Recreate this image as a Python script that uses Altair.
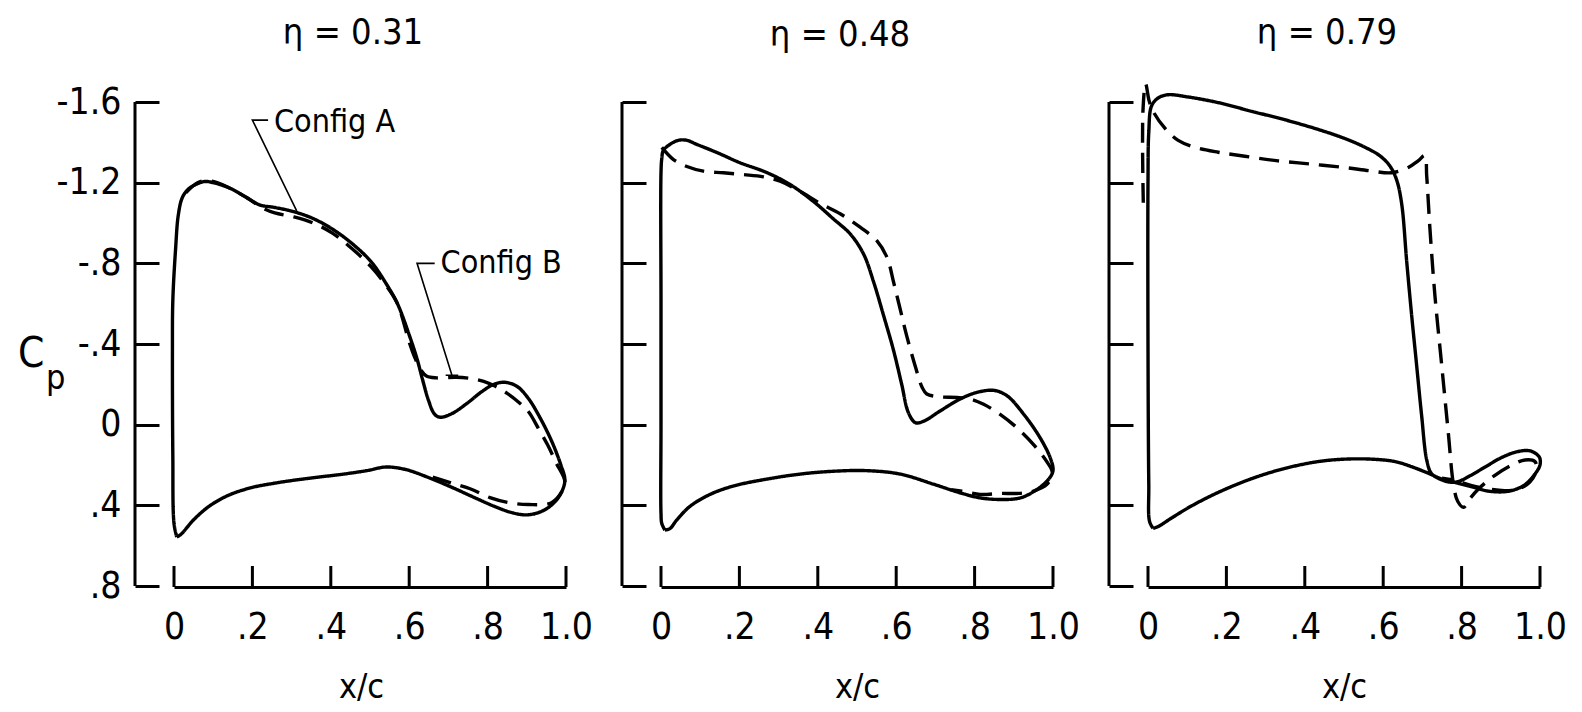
import altair as alt
import pandas as pd

FONT = "DejaVu Sans Condensed, Liberation Sans Narrow, Liberation Sans, sans-serif"

# ---------------------------------------------------------------------------
# Pressure distributions, Cp against x/c, traced around each section
# (leading edge -> upper surface -> trailing edge -> lower surface).
# ---------------------------------------------------------------------------

# eta = 0.31
eta31_a_x = [0.007, 0.0, -0.003, -0.004, -0.003, 0.004, 0.011, 0.021, 0.036, 0.061, 0.08,
             0.10, 0.14, 0.18, 0.218, 0.257, 0.306, 0.355, 0.404, 0.453, 0.502, 0.541,
             0.57, 0.60, 0.62, 0.634, 0.649, 0.664, 0.678, 0.708, 0.747, 0.786, 0.816,
             0.845, 0.875, 0.904, 0.933, 0.963, 0.987, 0.997,
             0.992, 0.973, 0.943, 0.904, 0.865, 0.816, 0.767, 0.708, 0.649, 0.59, 0.541,
             0.492, 0.433, 0.335, 0.257, 0.198, 0.139, 0.09, 0.051, 0.017, 0.007]
eta31_a_cp = [0.557, 0.49, 0.15, -0.36, -0.615, -0.87, -1.04, -1.125, -1.167, -1.196, -1.206,
              -1.20, -1.175, -1.133, -1.09, -1.077, -1.056, -1.022, -0.97, -0.90, -0.81, -0.70,
              -0.60, -0.445, -0.326, -0.224, -0.122, -0.054, -0.037, -0.054, -0.105, -0.165, -0.20,
              -0.21, -0.19, -0.13, -0.037, 0.08, 0.20, 0.27,
              0.32, 0.38, 0.425, 0.447, 0.438, 0.404, 0.362, 0.31, 0.262, 0.222, 0.21,
              0.228, 0.245, 0.268, 0.29, 0.312, 0.35, 0.404, 0.47, 0.545, 0.557]
eta31_b_x = [0.03, 0.06, 0.085, 0.11, 0.15, 0.19, 0.23, 0.257, 0.306, 0.355, 0.404, 0.453,
             0.502, 0.541, 0.57, 0.60, 0.615, 0.63, 0.645, 0.67, 0.72, 0.76, 0.79, 0.82,
             0.85, 0.88, 0.904, 0.93, 0.953, 0.975, 0.997,
             0.99, 0.963, 0.904, 0.855, 0.806, 0.757, 0.708, 0.66]
eta31_b_cp = [-1.15, -1.2, -1.21, -1.2, -1.165, -1.12, -1.07, -1.05, -1.03, -1.0, -0.95, -0.875,
              -0.785, -0.69, -0.6, -0.41, -0.33, -0.27, -0.24, -0.232, -0.235, -0.228, -0.215, -0.19,
              -0.155, -0.11, -0.065, 0.02, 0.1, 0.19, 0.28,
              0.33, 0.387, 0.396, 0.387, 0.362, 0.319, 0.29, 0.26]

# eta = 0.48
eta48_a_x = [0.01, 0.002, 0.0, 0.0, 0.0, 0.0, 0.002, 0.006, 0.023, 0.044, 0.066, 0.091,
             0.142, 0.20, 0.27, 0.33, 0.39, 0.44, 0.483, 0.517, 0.542, 0.568, 0.593, 0.614,
             0.631, 0.649, 0.67, 0.712, 0.763, 0.806, 0.849, 0.883, 0.926, 0.968, 0.994, 1.0,
             0.989, 0.96, 0.917, 0.866, 0.814, 0.763, 0.695, 0.61, 0.525, 0.44, 0.355, 0.27,
             0.185, 0.125, 0.074, 0.04, 0.023, 0.01]
eta48_a_cp = [0.523, 0.49, 0.44, 0.0, -0.6, -1.25, -1.32, -1.36, -1.39, -1.41, -1.41, -1.39,
              -1.35, -1.30, -1.25, -1.19, -1.105, -1.02, -0.945, -0.845, -0.71, -0.54, -0.37, -0.2,
              -0.06, -0.01, -0.017, -0.068, -0.127, -0.16, -0.17, -0.143, -0.05, 0.068, 0.17, 0.228,
              0.27, 0.32, 0.363, 0.371, 0.363, 0.338, 0.295, 0.245, 0.228, 0.231, 0.245, 0.27,
              0.304, 0.346, 0.405, 0.473, 0.515, 0.523]
eta48_b_x = [0.002, 0.031, 0.066, 0.108, 0.159, 0.21, 0.261, 0.304, 0.355, 0.406, 0.457,
             0.508, 0.551, 0.577, 0.593, 0.61, 0.627, 0.649, 0.666, 0.678, 0.712, 0.755,
             0.789, 0.823, 0.866, 0.909, 0.951, 0.985, 0.998,
             0.985, 0.951, 0.909, 0.866, 0.814, 0.78, 0.74]
eta48_b_cp = [-1.375, -1.316, -1.28, -1.257, -1.249, -1.24, -1.229, -1.207, -1.156, -1.097, -1.046,
              -0.979, -0.911, -0.827, -0.709, -0.574, -0.439, -0.287, -0.186, -0.152, -0.138, -0.135,
              -0.127, -0.101, -0.05, 0.017, 0.1, 0.186, 0.236,
              0.295, 0.329, 0.341, 0.341, 0.346, 0.334, 0.322]

# eta = 0.79
eta79_a_x = [0.013, 0.004, 0.002, 0.0, 0.0, 0.002, 0.009, 0.026, 0.051, 0.102, 0.179, 0.264,
             0.349, 0.434, 0.502, 0.553, 0.591, 0.617, 0.634, 0.647, 0.66, 0.672, 0.685, 0.698,
             0.711, 0.723, 0.745, 0.77, 0.79, 0.82, 0.86, 0.90, 0.94, 0.975, 0.998, 1.0,
             0.985, 0.96, 0.92, 0.87, 0.83, 0.79, 0.75, 0.72, 0.672, 0.63, 0.57, 0.502, 0.434,
             0.349, 0.264, 0.179, 0.111, 0.06, 0.026, 0.013]
eta79_a_cp = [0.514, 0.48, 0.293, -0.4, -1.2, -1.45, -1.58, -1.62, -1.636, -1.625, -1.597, -1.554,
              -1.512, -1.464, -1.419, -1.376, -1.334, -1.283, -1.215, -1.097, -0.808, -0.554, -0.3, -0.046,
              0.175, 0.242, 0.27, 0.285, 0.283, 0.255, 0.21, 0.165, 0.135, 0.13, 0.16, 0.2,
              0.25, 0.30, 0.33, 0.33, 0.31, 0.29, 0.27, 0.245, 0.208, 0.183, 0.171, 0.171, 0.183,
              0.217, 0.268, 0.336, 0.403, 0.463, 0.505, 0.514]
eta79_b_x = [-0.012, -0.013, -0.006, 0.003, 0.013, 0.043, 0.077, 0.119, 0.179, 0.247, 0.332,
             0.417, 0.502, 0.57, 0.621, 0.664, 0.689, 0.706, 0.711, 0.719, 0.732, 0.749, 0.766,
             0.779, 0.79, 0.805, 0.82, 0.843, 0.885, 0.928, 0.962, 0.987, 0.991,
             0.974, 0.945, 0.911, 0.868, 0.826, 0.783, 0.75]
eta79_b_cp = [-1.1, -1.55, -1.69, -1.605, -1.554, -1.47, -1.41, -1.376, -1.351, -1.331, -1.308,
              -1.292, -1.275, -1.258, -1.249, -1.275, -1.308, -1.334, -1.232, -0.978, -0.639, -0.3, 0.039,
              0.293, 0.38, 0.41, 0.37, 0.319, 0.251, 0.2, 0.175, 0.183, 0.225,
              0.285, 0.319, 0.327, 0.319, 0.302, 0.276, 0.265]

configs = ["Config A", "Config B"]
panel_titles = ["\u03b7 = 0.31", "\u03b7 = 0.48", "\u03b7 = 0.79"]

x_ticks = [0, 0.2, 0.4, 0.6, 0.8, 1.0]
x_tick_labels = ["0", ".2", ".4", ".6", ".8", "1.0"]
y_ticks = [-1.6, -1.2, -0.8, -0.4, 0.0, 0.4, 0.8]
y_tick_labels = ["-1.6", "-1.2", "-.8", "-.4", "0", ".4", ".8"]

# Callouts naming the two configurations (first panel)
note_text = ["Config A", "Config B"]
note_x = [0.255, 0.68]
note_cp = [-1.5, -0.8]
leader_a_x = [0.313, 0.20, 0.24]
leader_a_cp = [-1.06, -1.51, -1.51]
leader_b_x = [0.693, 0.725, 0.709, 0.62, 0.665]
leader_b_cp = [-0.245, -0.245, -0.245, -0.80, -0.80]

# ---------------------------------------------------------------------------
W, H = 392, 484
TICK_FONT_SIZE = 37
x_scale = alt.Scale(domain=[0, 1], nice=False, zero=False)
y_scale = alt.Scale(domain=[0.8, -1.6], nice=False, zero=False)


def label_expr(values, labels):
    expr = "''"
    for v, lab in zip(values, labels):
        expr = f"abs(datum.value - ({v})) < 0.000001 ? '{lab}' : ({expr})"
    return expr


def curve_frame(series):
    rows = []
    for name, xs, cps in series:
        for i, (x, c) in enumerate(zip(xs, cps)):
            rows.append({"x": x, "cp": c, "config": name, "seq": i})
    return pd.DataFrame(rows)


def panel(title, curves, first, title_offset, xtitle_shift=0):
    df = curve_frame(curves)
    # Left axis: inward-looking ticks drawn as outward ticks of an axis set in
    # from the frame line; the frame line itself is a separate rule.
    y_axis = alt.Axis(values=y_ticks, labelExpr=label_expr(y_ticks, y_tick_labels),
                      domain=False, ticks=True, tickSize=24, tickWidth=3, tickColor="black",
                      offset=15, labels=first, labelPadding=14, labelFontSize=TICK_FONT_SIZE,
                      labelFont=FONT, labelColor="black", labelFlush=False,
                      labelOverlap=False, grid=False, title=None)
    x_axis = alt.Axis(values=x_ticks, labelExpr=label_expr(x_ticks, x_tick_labels),
                      domain=True, domainWidth=3, domainColor="black", ticks=False,
                      tickSize=0, offset=1, labelPadding=22, labelFontSize=TICK_FONT_SIZE,
                      labelFont=FONT, labelColor="black", labelFlush=False,
                      labelOverlap=False, grid=False, title="x/c", titleFont=FONT,
                      titleFontSize=34, titleFontWeight="normal", titleColor="black",
                      titlePadding=25, titleX=W / 2 + xtitle_shift)

    def X(field):
        return alt.X(field, scale=x_scale, axis=x_axis)

    def Y(field):
        return alt.Y(field, scale=y_scale, axis=y_axis)

    lines = alt.Chart(df).mark_line(
        color="black", strokeWidth=3.4, interpolate="catmull-rom",
        strokeCap="butt", strokeJoin="round"
    ).encode(
        x=X("x:Q"),
        y=Y("cp:Q"),
        order="seq:Q",
        detail="config:N",
        strokeDash=alt.StrokeDash("config:N",
                                  scale=alt.Scale(domain=configs, range=[[1, 0], [20, 10]]),
                                  legend=None),
    )

    y_line = alt.Chart(pd.DataFrame({"cp": [y_ticks[0]], "hi": [y_ticks[-1]]})).mark_rule(
        color="black", strokeWidth=3
    ).encode(
        x=alt.value(-39),
        y=Y("cp:Q"),
        y2="hi:Q",
    )

    x_tick_marks = alt.Chart(pd.DataFrame({"x": x_ticks})).mark_rule(
        color="black", strokeWidth=3
    ).encode(
        x=X("x:Q"),
        y=alt.value(H - 20),
        y2=alt.value(H + 1),
    )

    layers = [lines, y_line, x_tick_marks]

    if first:
        notes = alt.Chart(pd.DataFrame({"x": note_x, "cp": note_cp, "t": note_text})).mark_text(
            font=FONT, fontSize=32, align="left", baseline="middle", color="black"
        ).encode(
            x=X("x:Q"),
            y=Y("cp:Q"),
            text="t:N",
        )
        lead = curve_frame([("A", leader_a_x, leader_a_cp), ("B", leader_b_x, leader_b_cp)])
        leaders = alt.Chart(lead).mark_line(color="black", strokeWidth=1.6).encode(
            x=X("x:Q"),
            y=Y("cp:Q"),
            order="seq:Q",
            detail="config:N",
        )
        # C with a lowered, smaller p as its subscript
        cp_c = alt.Chart(pd.DataFrame({"t": ["C"]})).mark_text(
            font=FONT, fontSize=42, align="left", baseline="middle", color="black"
        ).encode(text="t:N", x=alt.value(-156), y=alt.value(252))
        cp_p = alt.Chart(pd.DataFrame({"t": ["p"]})).mark_text(
            font=FONT, fontSize=34, align="left", baseline="middle", color="black"
        ).encode(text="t:N", x=alt.value(-128), y=alt.value(277))
        layers += [notes, leaders, cp_c, cp_p]

    return alt.layer(*layers).properties(
        width=W, height=H,
        title=alt.TitleParams(text=title, font=FONT, fontSize=36, fontWeight="normal",
                              color="black", anchor="middle", frame="group", dx=-17,
                              offset=title_offset),
    )


p1 = panel(panel_titles[0], [(configs[0], eta31_a_x, eta31_a_cp), (configs[1], eta31_b_x, eta31_b_cp)],
           True, 31, xtitle_shift=-9)
p2 = panel(panel_titles[1], [(configs[0], eta48_a_x, eta48_a_cp), (configs[1], eta48_b_x, eta48_b_cp)],
           False, 47)
p3 = panel(panel_titles[2], [(configs[0], eta79_a_x, eta79_a_cp), (configs[1], eta79_b_x, eta79_b_cp)],
           False, 30)

chart = alt.hconcat(p1, p2, p3, spacing=95, bounds="flush").properties(
    padding={"left": 18, "top": 15, "right": 5, "bottom": 5},
    background="white",
).configure_view(stroke=None)

chart.save("out.html", embed_options={"renderer": "svg", "actions": False})
